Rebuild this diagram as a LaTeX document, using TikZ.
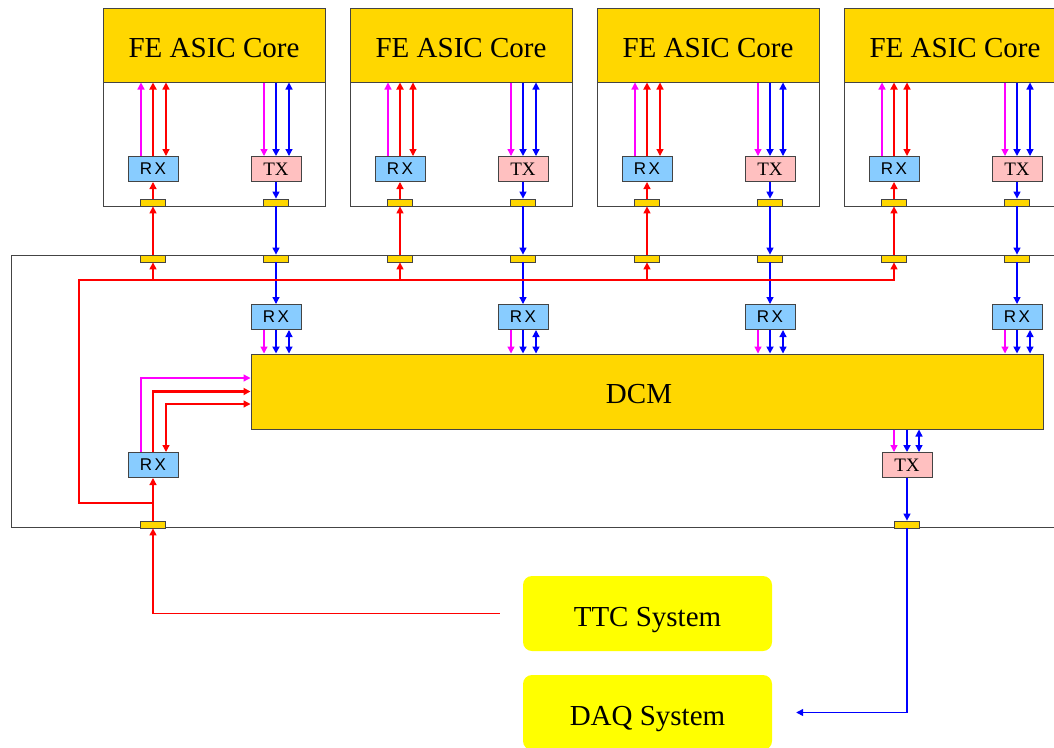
\documentclass[tikz,border=0pt]{standalone}
\usepackage{fontspec}
\setmainfont{Liberation Serif}
\newfontfamily\rxfont{Liberation Sans}
\usetikzlibrary{arrows.meta}
\definecolor{fegold}{RGB}{255,215,0}
\definecolor{rxblue}{RGB}{136,204,255}
\definecolor{txpink}{RGB}{255,192,192}
\definecolor{sysyellow}{RGB}{255,255,0}
\definecolor{bordergray}{RGB}{68,68,68}
\definecolor{lred}{RGB}{255,0,0}
\definecolor{lblue}{RGB}{0,0,255}
\definecolor{lmag}{RGB}{255,0,255}
\newcommand{\rxt}{R\hspace{2.5pt}X}
\begin{document}
\begin{tikzpicture}[x=1pt,y=-1pt,
  >={Triangle[length=7pt,width=7pt]},
  frame/.style={draw=bordergray,line width=1pt,fill=white,inner sep=0pt},
  core/.style={draw=bordergray,line width=1pt,fill=fegold,inner sep=0pt,minimum width=222pt,minimum height=74pt,text height=24pt,text depth=0pt,font=\fontsize{29}{31}\selectfont},
  rxbox/.style={draw=bordergray,line width=1pt,fill=rxblue,inner sep=0pt,minimum width=50pt,minimum height=25pt,font=\rxfont\fontsize{17}{17}\selectfont},
  txbox/.style={draw=bordergray,line width=1pt,fill=txpink,inner sep=0pt,minimum width=50pt,minimum height=25pt,font=\fontsize{19}{19}\selectfont},
  pad/.style={draw=bordergray,line width=0.8pt,fill=fegold,inner sep=0pt,minimum width=25pt,minimum height=7pt},
  sys/.style={fill=sysyellow,rounded corners=9pt,inner sep=0pt,minimum width=249pt,minimum height=75pt,text height=26pt,text depth=0pt,font=\fontsize{29}{31}\selectfont},
  thinl/.style={line width=1.3pt},
  thickl/.style={line width=2.6pt}]
\useasboundingbox (0,0) rectangle (1054,747);
\clip (0,0) rectangle (1054,747);

% outer board
\node[frame,minimum width=1059pt,minimum height=272pt] (board) at (540.5,391) {};

% FE ASICs
\foreach \i in {0,1,2,3}{
  \pgfmathsetmacro{\dx}{247*\i}
  \node[frame,minimum width=222pt,minimum height=198pt] (fe\i) at (214+\dx,107) {};
  \node[core] (core\i) at (214+\dx,45) {FE ASIC Core};
  \node[rxbox] (rxa\i) at (153+\dx,169) {\rxt};
  \node[txbox] (txa\i) at (276+\dx,169) {TX};
  \node[pad] (fpr\i) at (153+\dx,202.5) {};
  \node[pad] (fpt\i) at (276+\dx,202.5) {};
  \node[pad] (opr\i) at (153+\dx,258.5) {};
  \node[pad] (opt\i) at (276+\dx,258.5) {};
  \node[rxbox] (rxd\i) at (276+\dx,317) {\rxt};
}

\node[draw=bordergray,line width=1pt,fill=fegold,inner sep=0pt,minimum width=792pt,minimum height=75pt,text height=23pt,text depth=0pt,font=\fontsize{29}{31}\selectfont] (dcm) at (647,391.5) {DCM\hspace*{16pt}};
\node[rxbox] (lrx) at (153,465) {\rxt};
\node[txbox] (dtx) at (907,465) {TX};
\node[pad] (bpr) at (153,524.5) {};
\node[pad] (bpt) at (907,524.5) {};
\node[sys] (ttc) at (647.5,613.5) {TTC System};
\node[sys] (daq) at (647.5,712.5) {DAQ System};
\coordinate (jn) at (153,503);
\coordinate (bl) at (79,280);
\coordinate (busend) at (895,280);

\foreach \i in {0,1,2,3}{
  % RX side of FE
  \draw[lmag,thinl,->] ([xshift=-12pt]rxa\i.north) -- ([xshift=-12pt]rxa\i.north |- core\i.south);
  \draw[lred,thickl,->] (rxa\i.north) -- (rxa\i.north |- core\i.south);
  \draw[lred,thinl,<->] ([xshift=13pt]rxa\i.north |- core\i.south) -- ([xshift=13pt]rxa\i.north);
  \draw[lred,thinl,->] (fpr\i.north) -- (rxa\i.south);
  \draw[lred,thinl,->] (opr\i.north) -- (fpr\i.south);
  \draw[lred,thinl,->] (opr\i.south |- busend) -- (opr\i.south);
  % TX side of FE
  \draw[lmag,thinl,->] ([xshift=-12pt]txa\i.north |- core\i.south) -- ([xshift=-12pt]txa\i.north);
  \draw[lblue,thickl,->] (txa\i.north |- core\i.south) -- (txa\i.north);
  \draw[lblue,thinl,<->] ([xshift=13pt]txa\i.north |- core\i.south) -- ([xshift=13pt]txa\i.north);
  \draw[lblue,thinl,->] (txa\i.south) -- (fpt\i.north);
  \draw[lblue,thinl,->] (fpt\i.south) -- (opt\i.north);
  \draw[lblue,thinl,->] (opt\i.south) -- (rxd\i.north);
  % DCM receivers
  \draw[lmag,thinl,->] ([xshift=-12pt]rxd\i.south) -- ([xshift=-12pt]rxd\i.south |- dcm.north);
  \draw[lblue,thickl,->] (rxd\i.south) -- (rxd\i.south |- dcm.north);
  \draw[lblue,thinl,<->] ([xshift=13pt]rxd\i.south) -- ([xshift=13pt]rxd\i.south |- dcm.north);
}

% red bus
\draw[lred,thinl] (jn) -| (bl) -- (busend);

% TTC input
\draw[lred,thinl,->] ([xshift=-23pt]ttc.west) -| (bpr.south);
\draw[lred,thinl,->] (bpr.north) -- (lrx.south);
\draw[lmag,thinl,->] ([xshift=-12pt]lrx.north) |- ([yshift=13.5pt]dcm.west);
\draw[lred,thickl,->] (lrx.north) |- (dcm.west);
\draw[lred,thinl,<->] ([yshift=-12.5pt]dcm.west) -| ([xshift=13pt]lrx.north);

% DCM transmitter
\draw[lmag,thinl,->] ([xshift=-13pt]dtx.north |- dcm.south) -- ([xshift=-13pt]dtx.north);
\draw[lblue,thickl,->] (dtx.north |- dcm.south) -- (dtx.north);
\draw[lblue,thinl,<->] ([xshift=12pt]dtx.north |- dcm.south) -- ([xshift=12pt]dtx.north);
\draw[lblue,thinl,->] (dtx.south) -- (bpt.north);
\draw[lblue,thinl,->] (bpt.south) |- ([xshift=24pt]daq.east);
\end{tikzpicture}
\end{document}
